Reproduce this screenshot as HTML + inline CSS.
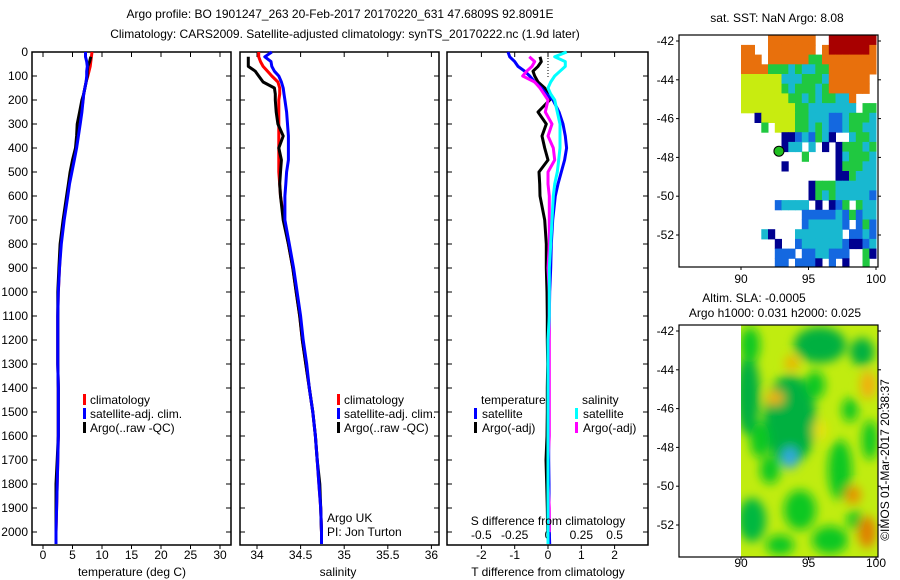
<!DOCTYPE html>
<html><head><meta charset="utf-8"><style>
html,body{margin:0;padding:0;background:#fff;}
svg{display:block;font-family:"Liberation Sans",sans-serif;font-size:12px;}
</style></head><body>
<svg id="c" width="900" height="580" viewBox="0 0 900 580">
<defs><filter id="bl" x="-50%" y="-50%" width="200%" height="200%"><feGaussianBlur stdDeviation="5"/></filter>
<clipPath id="slaclip"><rect x="741" y="325" width="137" height="232"/></clipPath></defs>
<text x="340" y="18" text-anchor="middle">Argo profile: BO 1901247_263 20-Feb-2017 20170220_631 47.6809S 92.8091E</text>
<text x="345" y="38" text-anchor="middle">Climatology: CARS2009. Satellite-adjusted climatology: synTS_20170222.nc (1.9d later)</text>
<g id="g"></g>
<text x="777" y="22" text-anchor="middle">sat. SST: NaN Argo: 8.08</text>
<text x="754" y="302" text-anchor="middle">Altim. SLA: -0.0005</text>
<text x="775" y="317" text-anchor="middle">Argo h1000: 0.031 h2000: 0.025</text>
<text transform="translate(889,460) rotate(-90)" text-anchor="middle">©IMOS 01-Mar-2017 20:38:37</text>
</svg>
<script>
const depth=[0,20,40,60,80,100,125,150,175,200,250,300,350,400,450,500,550,600,700,800,900,1000,1100,1200,1300,1400,1500,1600,1700,1800,1900,2000,2050];
const tempClim=[8.3,8.2,8.1,8.0,7.8,7.6,7.3,7.1,6.9,6.8,6.5,6.2,5.9,5.6,5.2,4.8,4.4,4.1,3.5,3.0,2.8,2.6,2.5,2.5,2.5,2.6,2.6,2.6,2.5,2.4,2.3,2.2,2.2];
const tempSat=[7.2,7.2,7.4,7.5,7.4,7.4,7.3,7.1,6.9,6.8,6.6,6.3,6.0,5.7,5.3,4.9,4.5,4.2,3.6,3.1,2.8,2.6,2.5,2.5,2.5,2.6,2.6,2.6,2.5,2.4,2.3,2.2,2.2];
const tempArgo=[null,8.1,7.9,7.6,7.5,7.5,7.3,7.1,6.9,6.6,6.2,5.8,5.7,5.5,5.0,4.6,4.3,4.0,3.4,2.9,2.7,2.5,2.5,2.5,2.5,2.6,2.6,2.6,2.4,2.2,2.2,2.2,null];
const salClim=[34.02,34.02,34.04,34.07,34.12,34.17,34.24,34.26,34.26,34.25,34.25,34.25,34.25,34.25,34.25,34.25,34.26,34.27,34.31,34.36,34.41,34.45,34.49,34.52,34.56,34.6,34.64,34.67,34.69,34.71,34.73,34.74,34.74];
const salSat=[34.17,34.09,34.16,34.17,34.2,34.25,34.28,34.3,34.31,34.32,34.34,34.35,34.36,34.36,34.36,34.34,34.33,34.32,34.32,34.37,34.42,34.46,34.5,34.53,34.57,34.6,34.64,34.67,34.69,34.71,34.73,34.74,34.74];
const salArgo=[null,33.9,33.9,33.9,33.98,34.02,34.07,34.2,34.21,34.21,34.22,34.24,34.3,34.25,34.28,34.27,34.26,34.27,34.3,34.36,34.41,34.45,34.49,34.52,34.56,34.6,34.64,34.67,34.69,34.72,34.73,34.74,null];
const tDiffSat=[-1.2,-1.15,-1.0,-0.9,-0.7,-0.55,-0.4,-0.2,-0.05,0.15,0.33,0.45,0.52,0.56,0.5,0.4,0.3,0.22,0.14,0.1,0.08,0.05,0.04,0.03,0.03,0.02,0.02,0.02,0.02,0.03,0.03,0.04,0.05];
const tDiffArgo=[null,-0.24,-0.2,-0.3,-0.45,-0.4,-0.3,-0.1,0.0,0.05,-0.3,-0.05,-0.18,-0.1,0.0,-0.27,-0.25,-0.24,-0.1,-0.05,-0.05,-0.03,-0.02,-0.02,-0.01,-0.02,-0.02,-0.03,-0.06,-0.04,-0.02,-0.01,null];
const sDiffArgo=[null,-0.14,-0.1,-0.12,-0.16,-0.19,-0.1,-0.06,-0.03,0,-0.02,0.03,0.0,0.04,0.05,0.0,0.0,0.01,0.01,0.01,0.0,0.01,0.01,0.01,0.01,0.01,0.01,0.01,0.0,0.0,0.01,0.01,null];
const sDiffSat=[0.14,0.05,0.13,0.13,0.09,0.05,0.02,0.0,0.02,0.05,0.07,0.09,0.09,0.09,0.08,0.07,0.05,0.04,0.03,0.02,0.01,0.01,0.01,0,0,0,0,0,0,0,0,0,0];
const depthTicks=[0,100,200,300,400,500,600,700,800,900,1000,1100,1200,1300,1400,1500,1600,1700,1800,1900,2000];
const tempTicks=[0,5,10,15,20,25,30];
const salTicks=[34,34.5,35,35.5,36];
const tDiffTicks=[-2,-1,0,1,2];
const sDiffTicks=[-0.5,-0.25,0,0.25,0.5];
const sstRows=["....ooooooo..rrrrrrr","oo..ooooooo.orrrrrro","ooo.ooooooggoooooooo","oooogggcgccggooooooo","yyyyyycccgggcoooooo.","yyyyyygcgggcgoooooo.","yyyyyyyggcgcggcco...","yyyyyyyyggccccccc.gg","..nyyyyyggcccbbcgggc","...g.yyyggcgcbbcggcc","......nnbcbgcn..cggc","......ncc.c.n.ngggcg",".........g....ncgggc","......n.......ngggcc","..............nngccc","..........ngggcccccc","..........ngcgcccccb",".....bcccc.n.nbg.gcc",".........bbbbbcbgbcc",".........bcccccb.bgb","...cn...ccccccc.bbcb",".....n..bccccccbnnbc",".....bbb.bbccbbb..gn",".....bb.bbbn.b.n..g."];
const latTicks=[-42,-44,-46,-48,-50,-52];
const lonTicks=[90,95,100];

const NS='http://www.w3.org/2000/svg';
const G=document.getElementById('g');
function el(t,a,p){const e=document.createElementNS(NS,t);for(const k in a)e.setAttribute(k,a[k]);(p||G).appendChild(e);return e;}
const Y0=52,DY=0.24,YB=545;
const yD=d=>Y0+d*DY;
const xT=v=>43+v*5.9;
const xS=v=>257+(v-34)*87.2;
const xDT=v=>548+v*33.3;
const xDS=v=>548+v*133.3;

function frame(x0,x1,name,ylabels){
  const r=el('rect',{x:x0,y:Y0,width:x1-x0,height:YB-Y0,fill:'none',stroke:'#000','stroke-width':1.5});
  
  
  depthTicks.forEach(d=>{
    el('line',{x1:x0,x2:x0+5,y1:yD(d),y2:yD(d),stroke:'#000'});
    el('line',{x1:x1-5,x2:x1,y1:yD(d),y2:yD(d),stroke:'#000'});
    if(ylabels){const t=el('text',{x:x0-4,y:yD(d)+4,'text-anchor':'end'});t.textContent=d;
      
      }
  });
}
function xticks(ticks,fx,labY,name,fmt){
  ticks.forEach(v=>{const x=fx(v);
    el('line',{x1:x,x2:x,y1:Y0,y2:Y0+5,stroke:'#000'});
    el('line',{x1:x,x2:x,y1:YB,y2:YB+4,stroke:'#000'});
    const t=el('text',{x:x,y:labY,'text-anchor':'middle'});t.textContent=fmt?fmt(v):v;
    
    });
}
function line(vals,fx,color,name,w){
  let pts=[];depth.forEach((d,i)=>{if(vals[i]!==null)pts.push(fx(vals[i]).toFixed(1)+','+yD(d).toFixed(1));});
  const p=el('polyline',{points:pts.join(' '),fill:'none',stroke:color,'stroke-width':w||3,'stroke-linejoin':'round'});
  
  
}
function txt(x,y,s,name,anchor){const t=el('text',{x:x,y:y,'text-anchor':anchor||'start'});t.textContent=s;
  
  return t;}
function legbar(x,y,c){el('rect',{x:x,y:y-10,width:3,height:11,fill:c});}

frame(32,231,'temperature-panel',true);
xticks(tempTicks,xT,559,'temperature-x');
line(tempClim,xT,'#ff0000','temperature-climatology-line');
line(tempArgo,xT,'#000','temperature-argo-line');
line(tempSat,xT,'#0000ff','temperature-satellite-line');
txt(132,576,'temperature (deg C)','temperature-axis-title','middle');
legbar(83,404,'#f00');txt(90,404,'climatology','legend-climatology');
legbar(83,418,'#00f');txt(90,418,'satellite-adj. clim.','legend-satellite');
legbar(83,432,'#000');txt(90,432,'Argo(..raw -QC)','legend-argo');

frame(240,439,'salinity-panel',false);
xticks(salTicks,xS,559,'salinity-x');
line(salClim,xS,'#ff0000','salinity-climatology-line');
line(salArgo,xS,'#000','salinity-argo-line');
line(salSat,xS,'#0000ff','salinity-satellite-line');
txt(338,576,'salinity','salinity-axis-title','middle');
legbar(337,404,'#f00');txt(344,404,'climatology','legend-climatology-2');
legbar(337,418,'#00f');txt(344,418,'satellite-adj. clim.','legend-satellite-2');
legbar(337,432,'#000');txt(344,432,'Argo(..raw -QC)','legend-argo-2');
txt(327,522,'Argo UK','argo-uk-label');
txt(327,536,'PI: Jon Turton','pi-label');

frame(447,648,'difference-panel',false);
xticks(tDiffTicks,xDT,559,'t-difference-x');
sDiffTicks.forEach(v=>{const t=el('text',{x:xDS(v),y:539,'text-anchor':'middle'});t.textContent=v;
  
  });
el('line',{x1:548,x2:548,y1:Y0,y2:yD(110),stroke:'#000','stroke-dasharray':'1,2'});
line(tDiffArgo,xDT,'#000','t-diff-argo-line');
line(tDiffSat,xDT,'#0000ff','t-diff-satellite-line');
line(sDiffArgo,xDS,'#ff00ff','s-diff-argo-line');
line(sDiffSat,xDS,'#00ffff','s-diff-satellite-line');
txt(548,576,'T difference from climatology','t-difference-axis-title','middle');
txt(548,525,'S difference from climatology','s-difference-axis-title','middle');
txt(481,404,'temperature','legend-temperature-header');
txt(582,404,'salinity','legend-salinity-header');
legbar(474,418,'#00f');txt(482,418,'satellite','legend-t-satellite');
legbar(474,432,'#000');txt(482,432,'Argo(-adj)','legend-t-argo');
legbar(575,418,'#0ff');txt(583,418,'satellite','legend-s-satellite');
legbar(575,432,'#f0f');txt(583,432,'Argo(-adj)','legend-s-argo');

const colMap={r:'#a80000',o:'#e8700c',y:'#c8ec10',g:'#20c840',c:'#18b8d0',b:'#1468e0',n:'#000090'};
const lonX=l=>741+(l-90)*13.5;
const latY1=l=>41+(-42-l)*19.4;
const latY2=l=>331+(-42-l)*19.4;
function mapAxes(y0,y1,fy,name,lonY){
  const r=el('rect',{x:679,y:y0,width:199,height:y1-y0,fill:'none',stroke:'#000','stroke-width':1.2});
  
  
  latTicks.forEach(l=>{el('line',{x1:676,x2:679,y1:fy(l),y2:fy(l),stroke:'#000'});
    el('line',{x1:878,x2:881,y1:fy(l),y2:fy(l),stroke:'#000'});
    txt(674,fy(l)+4,l,name+'-lat-label','end');});
  lonTicks.forEach(l=>{el('line',{x1:lonX(l),x2:lonX(l),y1:y1,y2:y1+3,stroke:'#000'});
    txt(lonX(l),lonY,l,name+'-lon-label','middle');});
}
sstRows.forEach((row,ri)=>{for(let ci=0;ci<row.length;ci++){const ch=row[ci];if(ch==='.')continue;
  const lat=-41.7-ri*0.5,lon=90+ci*0.5;
  const y0=latY1(lat),y1=Math.min(latY1(lat-0.5),267);
  el('rect',{x:lonX(lon).toFixed(1),y:y0.toFixed(1),width:7.2,height:(y1-y0+0.5).toFixed(1),fill:colMap[ch]});}});
const dot=el('circle',{cx:lonX(92.81),cy:latY1(-47.68),r:5,fill:'#20c020',stroke:'#000','stroke-width':1});


mapAxes(35,267,latY1,'sst-map',283);

const sg=el('g',{'clip-path':'url(#slaclip)'});
el('rect',{x:741,y:325,width:137,height:232,fill:'#c0ec10'},sg);
const bg=el('g',{filter:'url(#bl)'},sg);
[[748,395,12,40,'#00b040'],[750,345,10,18,'#10c820'],[790,420,26,45,'#00b040'],[820,345,26,18,'#00b040'],[862,352,12,14,'#00b040'],
 [752,520,14,22,'#00b840'],[800,510,16,20,'#10c820'],[840,470,12,30,'#10c820'],[770,470,10,14,'#10c820'],[830,540,18,14,'#10c820'],[870,440,8,20,'#10c820'],
 [760,440,10,18,'#10c820'],[815,385,10,14,'#10c820'],[850,410,8,12,'#10c820'],[780,545,14,10,'#10c820'],[855,520,8,10,'#10c820']
].forEach(e=>el('ellipse',{cx:e[0],cy:e[1],rx:e[2],ry:e[3],fill:e[4]},bg));
[[792,363,7,7,'#f0b000'],[775,398,9,7,'#f0b010'],[868,385,8,14,'#f0b010'],[853,495,8,9,'#e89000'],[867,532,9,16,'#e08000'],[820,430,7,10,'#e8e010']
].forEach(e=>el('ellipse',{cx:e[0],cy:e[1],rx:e[2],ry:e[3],fill:e[4]},bg));
el('ellipse',{cx:790,cy:458,rx:8,ry:11,fill:'#30a8e0'},bg);
mapAxes(325,557,latY2,'sla-map',567);
</script>
</body></html>
